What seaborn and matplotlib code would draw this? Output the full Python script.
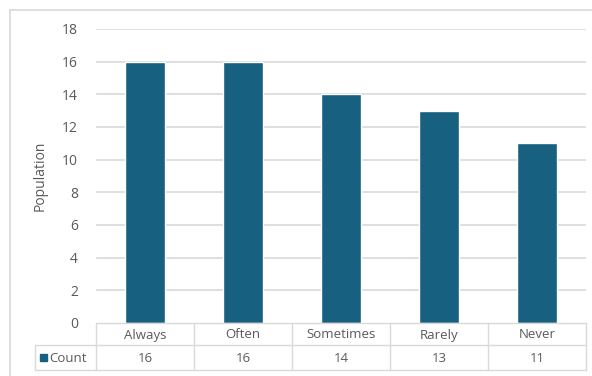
import matplotlib
matplotlib.use("Agg")
import matplotlib.pyplot as plt
import seaborn as sns
import pandas as pd
from matplotlib.patches import Rectangle
from matplotlib.lines import Line2D

categories = ["Always", "Often", "Sometimes", "Rarely", "Never"]
counts = [16, 16, 14, 13, 11]
series_name = "Count"
y_label = "Population"
y_ticks = [0, 2, 4, 6, 8, 10, 12, 14, 16, 18]

sns.set_theme(style="white")
plt.rcParams['font.family'] = ['Open Sans', 'DejaVu Sans']

W, H = 592, 376
fig = plt.figure(figsize=(W / 100, H / 100), dpi=100)

bar_color = "#17607F"
text_color = "#595959"
grid_color = "#D9D9D9"

x0, x1 = 96, 586
ytop, ybot = 29, 323
ax = fig.add_axes([x0 / W, (H - ybot) / H, (x1 - x0) / W, (ybot - ytop) / H])

df = pd.DataFrame({"cat": categories, "val": counts})
sns.barplot(data=df, x="cat", y="val", color=bar_color, width=0.4, ax=ax,
            saturation=1, zorder=3)
ax.set_xlim(-0.5, len(categories) - 0.5)
ax.set_ylim(0, 18)
ax.set_yticks(y_ticks)
ax.set_yticklabels([str(t) for t in y_ticks], color=text_color, fontsize=10)
ax.tick_params(axis='y', length=0, pad=13)
ax.set_xticks([])
ax.set_xlabel("")
ax.set_ylabel(y_label, color=text_color, fontsize=10, labelpad=10)
for t in y_ticks[1:]:
    ax.axhline(t, color=grid_color, lw=1.2, zorder=1)
for s in ax.spines.values():
    s.set_visible(False)

def fx(px):
    return px / W

def fy(py):
    return (H - py) / H

def line(xa, ya, xb, yb, color=grid_color, lw=1.0):
    fig.add_artist(Line2D([fx(xa), fx(xb)], [fy(ya), fy(yb)], color=color, lw=lw,
                          transform=fig.transFigure))

# outer chart border
line(10, 10, 592, 10, color="#D9D9D9", lw=1.2)
line(10, 10, 10, 376, color="#D9D9D9", lw=1.2)

# data table
row1_top, row1_bot, row2_bot = 323, 345, 370
table_left = 35
col_w = (x1 - x0) / len(categories)
line(x0, row1_top, x1, row1_top)
line(table_left, row1_bot, x1, row1_bot)
line(table_left, row2_bot, x1, row2_bot)
line(table_left, row1_bot, table_left, row2_bot)
for i in range(len(categories) + 1):
    xx = x0 + i * col_w
    line(xx, row1_top, xx, row2_bot)

for i, (c, v) in enumerate(zip(categories, counts)):
    cx = x0 + (i + 0.5) * col_w
    fig.text(fx(cx), fy((row1_top + row1_bot) / 2 + 1), c, ha="center", va="center",
             fontsize=9.5, color=text_color)
    fig.text(fx(cx), fy((row1_bot + row2_bot) / 2 + 1), str(v), ha="center", va="center",
             fontsize=9.5, color=text_color)

ky = (row1_bot + row2_bot) / 2
fig.add_artist(Rectangle((fx(40), fy(ky + 3.5)), 7 / W, 7 / H, color=bar_color,
                         transform=fig.transFigure))
fig.text(fx(49), fy(ky + 1), series_name, ha="left", va="center", fontsize=9.5,
         color=text_color)

fig.savefig("out.png", dpi=100)
